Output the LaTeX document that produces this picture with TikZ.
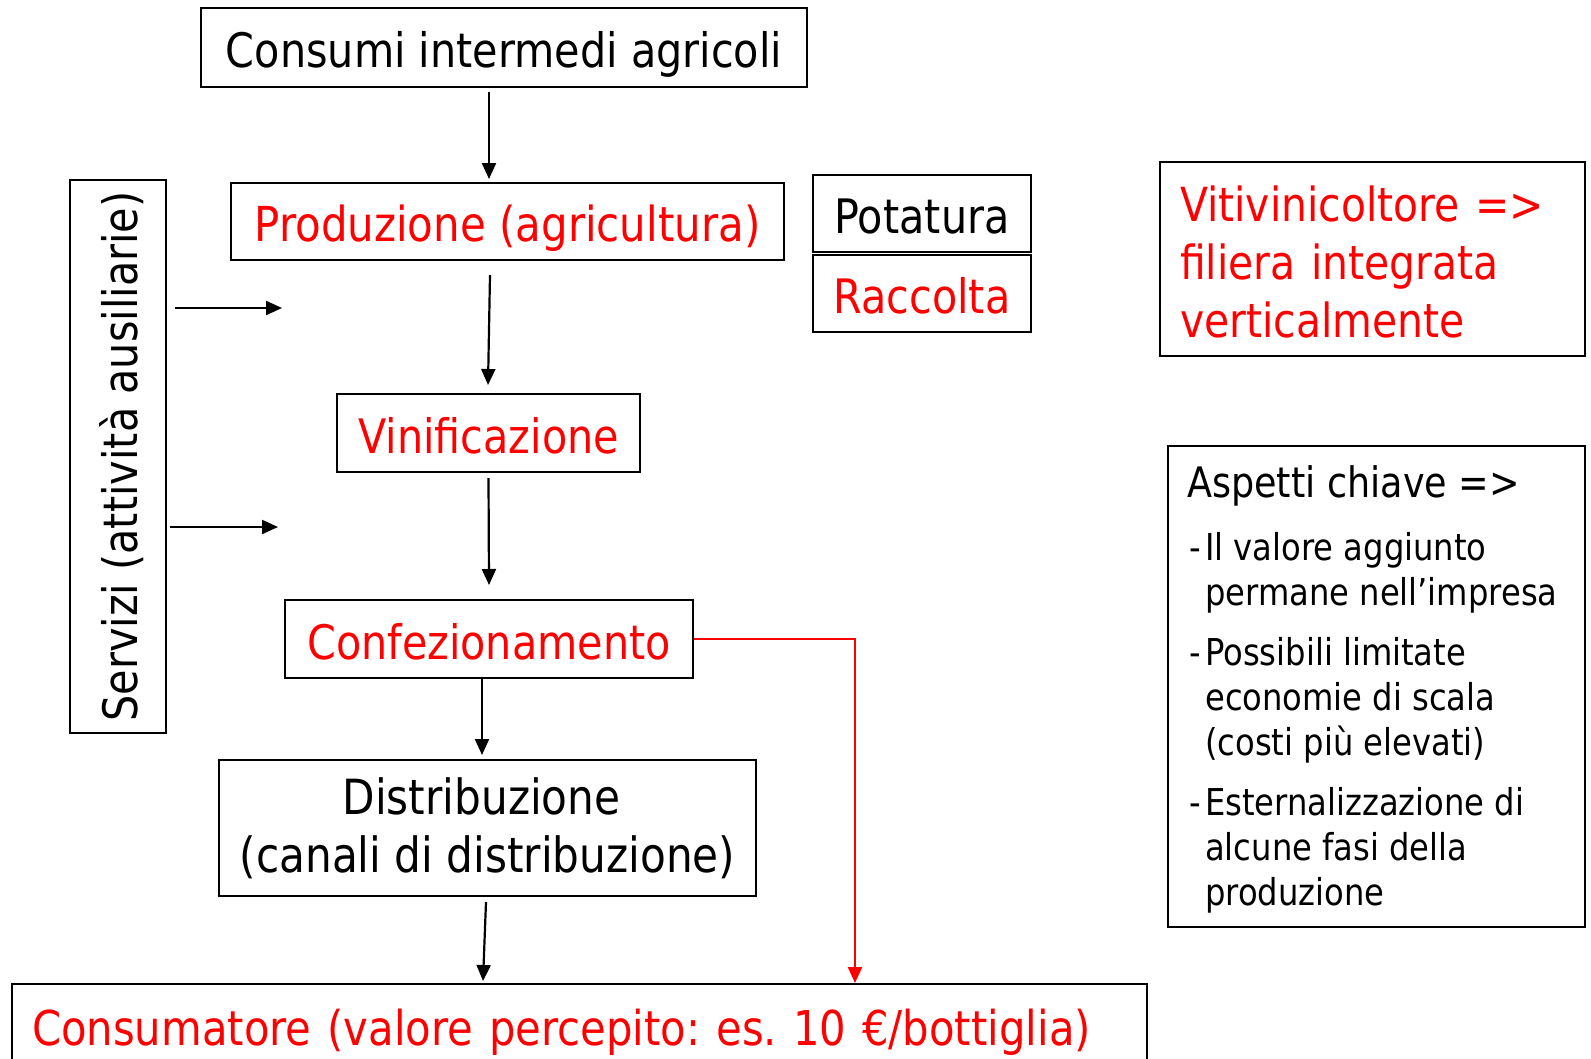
\documentclass[tikz,border=0pt]{standalone}
\usepackage{fontspec}
\setmainfont[FakeStretch=0.87]{DejaVu Sans}
\usetikzlibrary{arrows.meta}
\definecolor{myred}{RGB}{255,0,0}
\newcommand{\fs}[2]{\fontsize{#1}{#2}\selectfont}
\frenchspacing
\tikzset{
 box/.style={draw=black, line width=2pt, inner sep=0pt, align=center},
 one/.style={text height=46pt, text depth=6pt},
 arr/.style={line width=2.2pt, -{Triangle[length=16pt,width=14pt]}},
 redarr/.style={arr, draw=myred, color=myred},
 big/.style={font=\fs{47.5}{58}},
 redtext/.style={text=myred},
}
\begin{document}
\begin{tikzpicture}[x=1pt,y=-1pt]
\useasboundingbox[fill=white] (0,0) rectangle (1591,1058);
% main chain
\node[box, one, big, minimum width=606pt, minimum height=79pt] (cons) at (504,47.5) {Consumi intermedi agricoli};
\node[box, one, font=\fs{48.2}{58}, redtext, minimum width=553pt, minimum height=77pt] (prod) at (507.5,221.5) {Produzione (agricultura)};
\node[box, one, big, minimum width=218pt, minimum height=77pt] (pot) at (922,213.5) {Potatura};
\node[box, one, big, redtext, minimum width=218pt, minimum height=77pt] (racc) at (922,293.5) {Raccolta};
\node[box, redtext, align=left, text width=385pt, inner xsep=20pt, minimum height=194pt, font=\fs{47}{58}] (viti) at (1372.5,259) {\rule{0pt}{42pt}Vitivinicoltore =>\\filiera integrata\\verticalmente};
\node[box, minimum width=96pt, minimum height=553pt] (serv) at (118,456.5) {};
\node[rotate=90, big, inner sep=0pt] (servt) at ([xshift=4pt]serv.center) {Servizi (attività ausiliarie)};
\node[box, one, big, redtext, minimum width=303pt, minimum height=78pt] (vin) at (488.5,433) {Vinificazione};
\node[box, one, big, redtext, minimum width=408pt, minimum height=78pt] (conf) at (489,639) {Confezionamento};
\node[box, minimum width=537pt, minimum height=136pt, font=\fs{48.5}{58}] (dist) at (487.5,828) {Distribuzione\hspace*{12pt}\\(canali di distribuzione)};
\node[box, one, redtext, align=left, text width=1095pt, inner xsep=20pt, minimum height=82pt, font=\fs{48}{58}] (consu) at (579.5,1025) {Consumatore (valore percepito: es. 10 €/bottiglia)};
% key aspects
\node[box, minimum width=417pt, minimum height=481pt] (asp) at (1376.5,686.5) {};
\node[anchor=north west, inner sep=0pt, align=left, font=\fs{37}{45}] (asptext) at (1187,465) {{\fs{42}{45}Aspetti chiave =>}\\[18pt]
\makebox[18pt][l]{\hspace{2pt}-}Il valore aggiunto\\
\hspace*{18pt}permane nell’impresa\\[15pt]
\makebox[18pt][l]{\hspace{2pt}-}Possibili limitate\\
\hspace*{18pt}economie di scala\\
\hspace*{18pt}(costi più elevati)\\[15pt]
\makebox[18pt][l]{\hspace{2pt}-}Esternalizzazione di\\
\hspace*{18pt}alcune fasi della\\
\hspace*{18pt}produzione};
% free ends of service arrows
\coordinate (t1) at (282,308);
\coordinate (t2) at (278,527);
% connectors
\draw[arr] ([xshift=-15pt,yshift=-4pt]cons.south) -- ([xshift=-18.5pt,yshift=3pt]prod.north);
\draw[arr] ([xshift=-17.5pt,yshift=-14pt]prod.south) -- ([xshift=-0.5pt,yshift=8pt]vin.north);
\draw[arr] ([yshift=-5pt]vin.south) -- ([yshift=14pt]conf.north);
\draw[arr] ([xshift=-7pt]conf.south) -- ([xshift=-5.5pt,yshift=4pt]dist.north);
\draw[arr] ([xshift=-1.5pt,yshift=-5pt]dist.south) -- ([xshift=-96.5pt,yshift=2pt]consu.north);
\draw[arr] ([xshift=8pt,yshift=148.5pt]serv.east) -- (t1);
\draw[arr] ([xshift=3pt,yshift=-70.5pt]serv.east) -- (t2);
\draw[redarr] (conf.east) -| ([xshift=275.5pt]consu.north);
\end{tikzpicture}
\end{document}
